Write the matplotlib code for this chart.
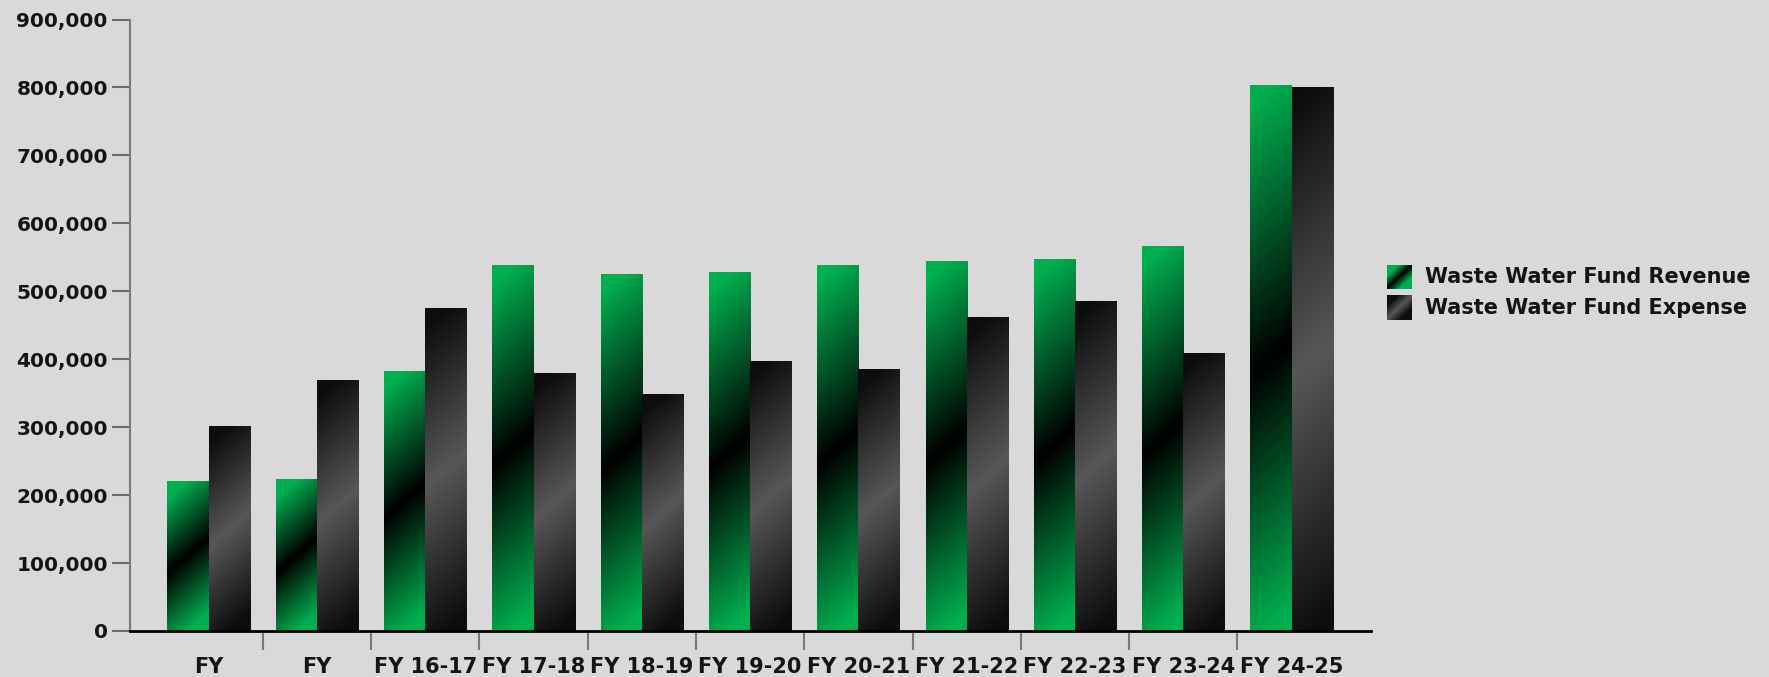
import numpy as np
import matplotlib
matplotlib.use("Agg")
import matplotlib.pyplot as plt
from matplotlib.colors import to_rgb
from matplotlib.ticker import FuncFormatter

# ---- data -------------------------------------------------------------
categories = ["FY", "FY", "FY 16-17", "FY 17-18", "FY 18-19", "FY 19-20",
              "FY 20-21", "FY 21-22", "FY 22-23", "FY 23-24", "FY 24-25"]
revenue = [221000, 223000, 382000, 538000, 526000, 528000,
           539000, 544000, 548000, 566000, 803000]
expense = [301500, 369000, 475000, 380000, 349500, 398000,
           385000, 462000, 486000, 409000, 801000]
series_names = ["Waste Water Fund Revenue", "Waste Water Fund Expense"]
y_ticks = list(range(0, 900001, 100000))

# ---- style ------------------------------------------------------------
plt.rcParams["font.family"] = ["DejaVu Sans"]
plt.rcParams["font.weight"] = "bold"
BG = "#d9d9d9"
TXT = "#141414"
GREEN = np.array(to_rgb("#00b050"))
BLACK = np.array(to_rgb("#000000"))
GREY_MID = np.array(to_rgb("#575757"))
GREY_END = np.array(to_rgb("#0d0d0d"))
SCHEMES = [(BLACK, GREEN), (GREY_MID, GREY_END)]


def gradient_image(w_px, h_px, c_mid, c_end, slope=0.9):
    """Cyclic diagonal gradient: c_mid along a '/' band through the centre,
    c_end towards the top and bottom edges."""
    nx = max(int(round(w_px)), 2)
    ny = max(int(round(h_px)), 2)
    xs = np.arange(nx) + 0.5 - nx / 2
    ys = ny / 2 - (np.arange(ny) + 0.5)
    X, Y = np.meshgrid(xs, ys)
    d = Y - slope * X
    t = np.clip(np.abs(d) / (ny / 2), 0, 1)[..., None]
    return c_mid * (1 - t) + c_end * t


W, H = 1769, 677
fig = plt.figure(figsize=(W / 100, H / 100), dpi=100, facecolor=BG)
ax = fig.add_axes([130 / W, 46 / H, (1371 - 130) / W, (631 - 19.5) / H], facecolor=BG)
ax.set_xlim(-0.726, 10.733)
ax.set_ylim(0, 900000)
ax.set_autoscale_on(False)

x = np.arange(len(categories))
bw = 0.38
bars_rev = ax.bar(x - bw / 2, revenue, bw, color="#00b050", linewidth=0, zorder=2)
bars_exp = ax.bar(x + bw / 2, expense, bw, color="#333333", linewidth=0, zorder=2)

for bars, (c_mid, c_end) in zip([bars_rev, bars_exp], SCHEMES):
    for patch in bars:
        x0, y0 = patch.get_x(), patch.get_y()
        x1, y1 = x0 + patch.get_width(), y0 + patch.get_height()
        p0 = ax.transData.transform((x0, y0))
        p1 = ax.transData.transform((x1, y1))
        img = gradient_image(p1[0] - p0[0], p1[1] - p0[1], c_mid, c_end)
        im = ax.imshow(img, extent=(x0, x1, y0, y1), origin="upper",
                       aspect="auto", interpolation="bilinear", zorder=3)
        im.set_clip_path(patch)

# ---- axes -------------------------------------------------------------
for side in ("top", "right"):
    ax.spines[side].set_visible(False)
ax.spines["left"].set_color("#7a7a7a")
ax.spines["left"].set_linewidth(1.5)
ax.spines["bottom"].set_color("#000000")
ax.spines["bottom"].set_linewidth(2)
ax.spines["bottom"].set_zorder(5)

ax.set_yticks(y_ticks)
ax.yaxis.set_major_formatter(FuncFormatter(lambda v, _: f"{int(v):,}"))
ax.tick_params(axis="y", length=13, width=1.5, color="#6a6a6a", pad=3,
               labelsize=14.5, labelcolor=TXT)

ax.set_xticks(x)
ax.set_xticklabels(categories)
ax.set_xticks(x[:-1] + 0.5, minor=True)
ax.tick_params(axis="x", which="major", length=0, pad=19, labelsize=15, labelcolor=TXT)
ax.tick_params(axis="x", which="minor", length=13.5, width=1.5, color="#7a7a7a")

# ---- legend -----------------------------------------------------------
legend_rows = [(265, 289), (295, 320)]
for name, (c_mid, c_end), (top, bottom) in zip(series_names, SCHEMES, legend_rows):
    lax = fig.add_axes([1387 / W, 1 - bottom / H, 25 / W, (bottom - top) / H])
    lax.imshow(gradient_image(25, bottom - top, c_mid, c_end),
               aspect="auto", interpolation="bilinear")
    lax.set_axis_off()
    fig.text(1425 / W, 1 - (top + bottom) / 2 / H, name, ha="left", va="center",
             fontsize=15, color=TXT, fontweight="bold")

fig.savefig("out.png", dpi=100, facecolor=BG)
